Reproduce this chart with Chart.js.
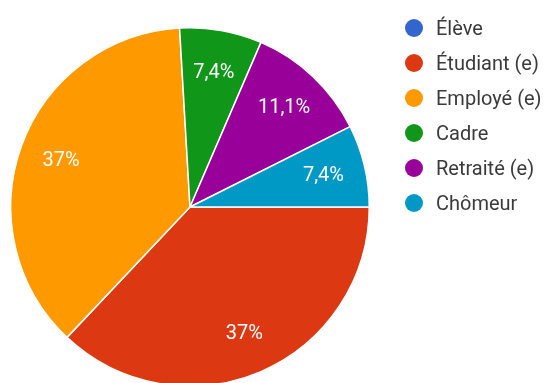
<!DOCTYPE html>
<html>
<head>
<meta charset="utf-8">
<script src="https://cdn.jsdelivr.net/npm/chart.js@4"></script>
<style>
  html, body { margin: 0; padding: 0; background: #fff; overflow: hidden; }
  #wrap { position: relative; width: 550px; height: 383px; overflow: hidden; }
  #legend { position: absolute; left: 405px; top: 10px; font-family: Roboto, sans-serif; font-size: 20px; color: #3a3a3a; }
  #legend .row { height: 35px; display: flex; align-items: center; white-space: nowrap; }
  #legend .dot { width: 18px; height: 18px; border-radius: 50%; margin-right: 13px; flex: none; }
</style>
</head>
<body>
<div id="wrap">
  <canvas id="pie" width="550" height="390"></canvas>
  <div id="legend"></div>
</div>
<script>
// Répartition des répondants par situation
const labels = ['Élève', 'Étudiant (e)', 'Employé (e)', 'Cadre', 'Retraité (e)', 'Chômeur'];
const counts = [0, 10, 10, 2, 3, 2];
const colors = ['#3366cc', '#dc3912', '#ff9900', '#109618', '#990099', '#0099c6'];

// pourcentage au format français : 37%, 7,4%
function pct(v, total) {
    const p = Math.round(v / total * 1000) / 10;
    return String(p).replace('.', ',') + '%';
}

// étiquettes blanches à l'intérieur des parts
const sliceLabels = {
    id: 'sliceLabels',
    afterDatasetsDraw(chart) {
        const { ctx } = chart;
        const meta = chart.getDatasetMeta(0);
        const total = counts.reduce((a, b) => a + b, 0);
        ctx.save();
        ctx.fillStyle = '#fff';
        ctx.font = '20px Roboto, sans-serif';
        ctx.textAlign = 'center';
        ctx.textBaseline = 'middle';
        meta.data.forEach((arc, i) => {
            if (!counts[i]) return;
            const { x, y, startAngle, endAngle, outerRadius } = arc.getProps(['x', 'y', 'startAngle', 'endAngle', 'outerRadius'], true);
            const mid = (startAngle + endAngle) / 2;
            const r = outerRadius * 0.765;
            ctx.fillText(pct(counts[i], total), x + Math.cos(mid) * r, y + Math.sin(mid) * r + 1);
        });
        ctx.restore();
    }
};

new Chart(document.getElementById('pie'), {
    type: 'pie',
    data: {
        labels,
        datasets: [{
            data: counts,
            backgroundColor: colors,
            borderColor: '#fff',
            borderWidth: 1.5
        }]
    },
    options: {
        responsive: false,
        animation: false,
        rotation: 90,
        layout: { padding: { top: 27, left: 10, right: 180, bottom: 3 } },
        plugins: {
            legend: { display: false },
            tooltip: { enabled: false }
        }
    },
    plugins: [sliceLabels]
});

// légende
const legend = document.getElementById('legend');
labels.forEach((name, i) => {
    const row = document.createElement('div');
    row.className = 'row';
    row.innerHTML = `<span class="dot" style="background:${colors[i]}"></span><span>${name}</span>`;
    legend.appendChild(row);
});
</script>
</body>
</html>
